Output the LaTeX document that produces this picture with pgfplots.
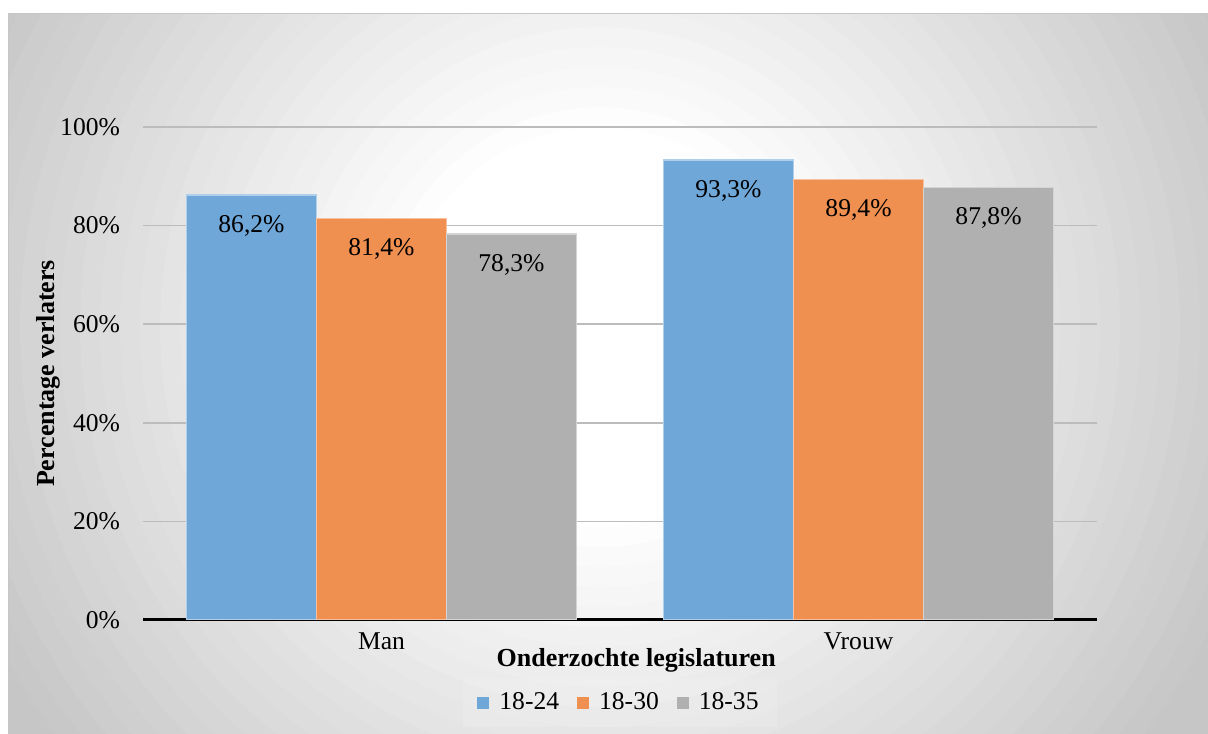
\documentclass[border=0pt]{standalone}
\usepackage{fontspec}
\setmainfont{Liberation Serif}
\usepackage{pgfplots}
\pgfplotsset{compat=1.18}

\definecolor{cblue}{RGB}{112,167,217}
\definecolor{corange}{RGB}{239,143,80}
\definecolor{cgray}{RGB}{176,176,176}
\definecolor{bgout}{RGB}{198,198,198}
\definecolor{gridc}{RGB}{188,188,188}

\begin{document}
\begin{tikzpicture}
\useasboundingbox (0,0) rectangle (604pt,366.5pt);
% radial background, built from stacked discs
\begin{scope}
  \clip (4pt,-1pt) rectangle (605pt,359.5pt);
  \fill[bgout] (4pt,-1pt) rectangle (605pt,359.5pt);
  \foreach \k in {0,...,25}{
    \pgfmathsetmacro\rr{350-10*\k}
    \pgfmathsetmacro\pp{4*\k}
    \fill[white!\pp!bgout] (300pt,203pt) circle (\rr pt);
  }
\end{scope}
\draw[gray!45, line width=0.5pt] (4pt,0) -- (4pt,359.5pt) -- (604pt,359.5pt);

\begin{axis}[
    at={(71.5pt,56.5pt)}, anchor=south west,
    scale only axis, width=477pt, height=246.5pt,
    ybar=0pt, bar width=65pt,
    xmin=-0.5, xmax=1.5, ymin=0, ymax=100,
    xtick={0,1}, xticklabels={Man,Vrouw},
    ytick={0,20,...,100},
    yticklabel={\pgfmathprintnumber{\tick}\%},
    /pgf/number format/assume math mode=true,
    ymajorgrids, grid style={gridc, line width=0.75pt},
    axis x line=bottom, axis y line=left,
    x axis line style={-, line width=1.5pt, black},
    y axis line style={draw=none},
    major tick length=0pt,
    tick label style={font=\fontsize{12.8}{15}\selectfont},
    xticklabel style={yshift=-3pt},
    yticklabel style={xshift=-8pt},
    xlabel={Onderzochte legislaturen},
    ylabel={Percentage verlaters},
    label style={font=\fontsize{13}{15}\selectfont\bfseries},
    xlabel style={at={(axis description cs:0.517,-0.081)}, anchor=center},
    ylabel style={at={(axis description cs:-0.0996,0.5)}, anchor=center},
    nodes near coords={\pgfmathprintnumber[fixed,fixed zerofill,precision=1,use comma]{\pgfplotspointmeta}\%},
    nodes near coords style={anchor=north, yshift=-6.5pt, text=black, font=\fontsize{12.8}{15}\selectfont},
    legend columns=3,
    legend style={at={(axis description cs:0.5,-0.168)}, anchor=center, draw=none,
        fill=white, fill opacity=0.12, text opacity=1, inner xsep=7pt, inner ysep=5pt,
        font=\fontsize{12.8}{15}\selectfont,
        /tikz/every odd column/.append style={column sep=3pt},
        /tikz/every even column/.append style={column sep=7pt}},
    legend image code/.code={\path[#1, draw=none, fill opacity=1] (0pt,-3pt) rectangle (6pt,3pt);},
]
\addplot[fill=cblue, draw=cblue!55!white, line width=0.6pt] coordinates {(0,86.2) (1,93.3)};
\addplot[fill=corange, draw=corange!55!white, line width=0.6pt] coordinates {(0,81.4) (1,89.4)};
\addplot[fill=cgray, draw=cgray!55!white, line width=0.6pt] coordinates {(0,78.3) (1,87.8)};
\legend{18-24,18-30,18-35}
\draw[black, line width=1.5pt] (axis cs:-0.5,0) -- ++(0pt,-4pt);
\end{axis}
\end{tikzpicture}
\end{document}
